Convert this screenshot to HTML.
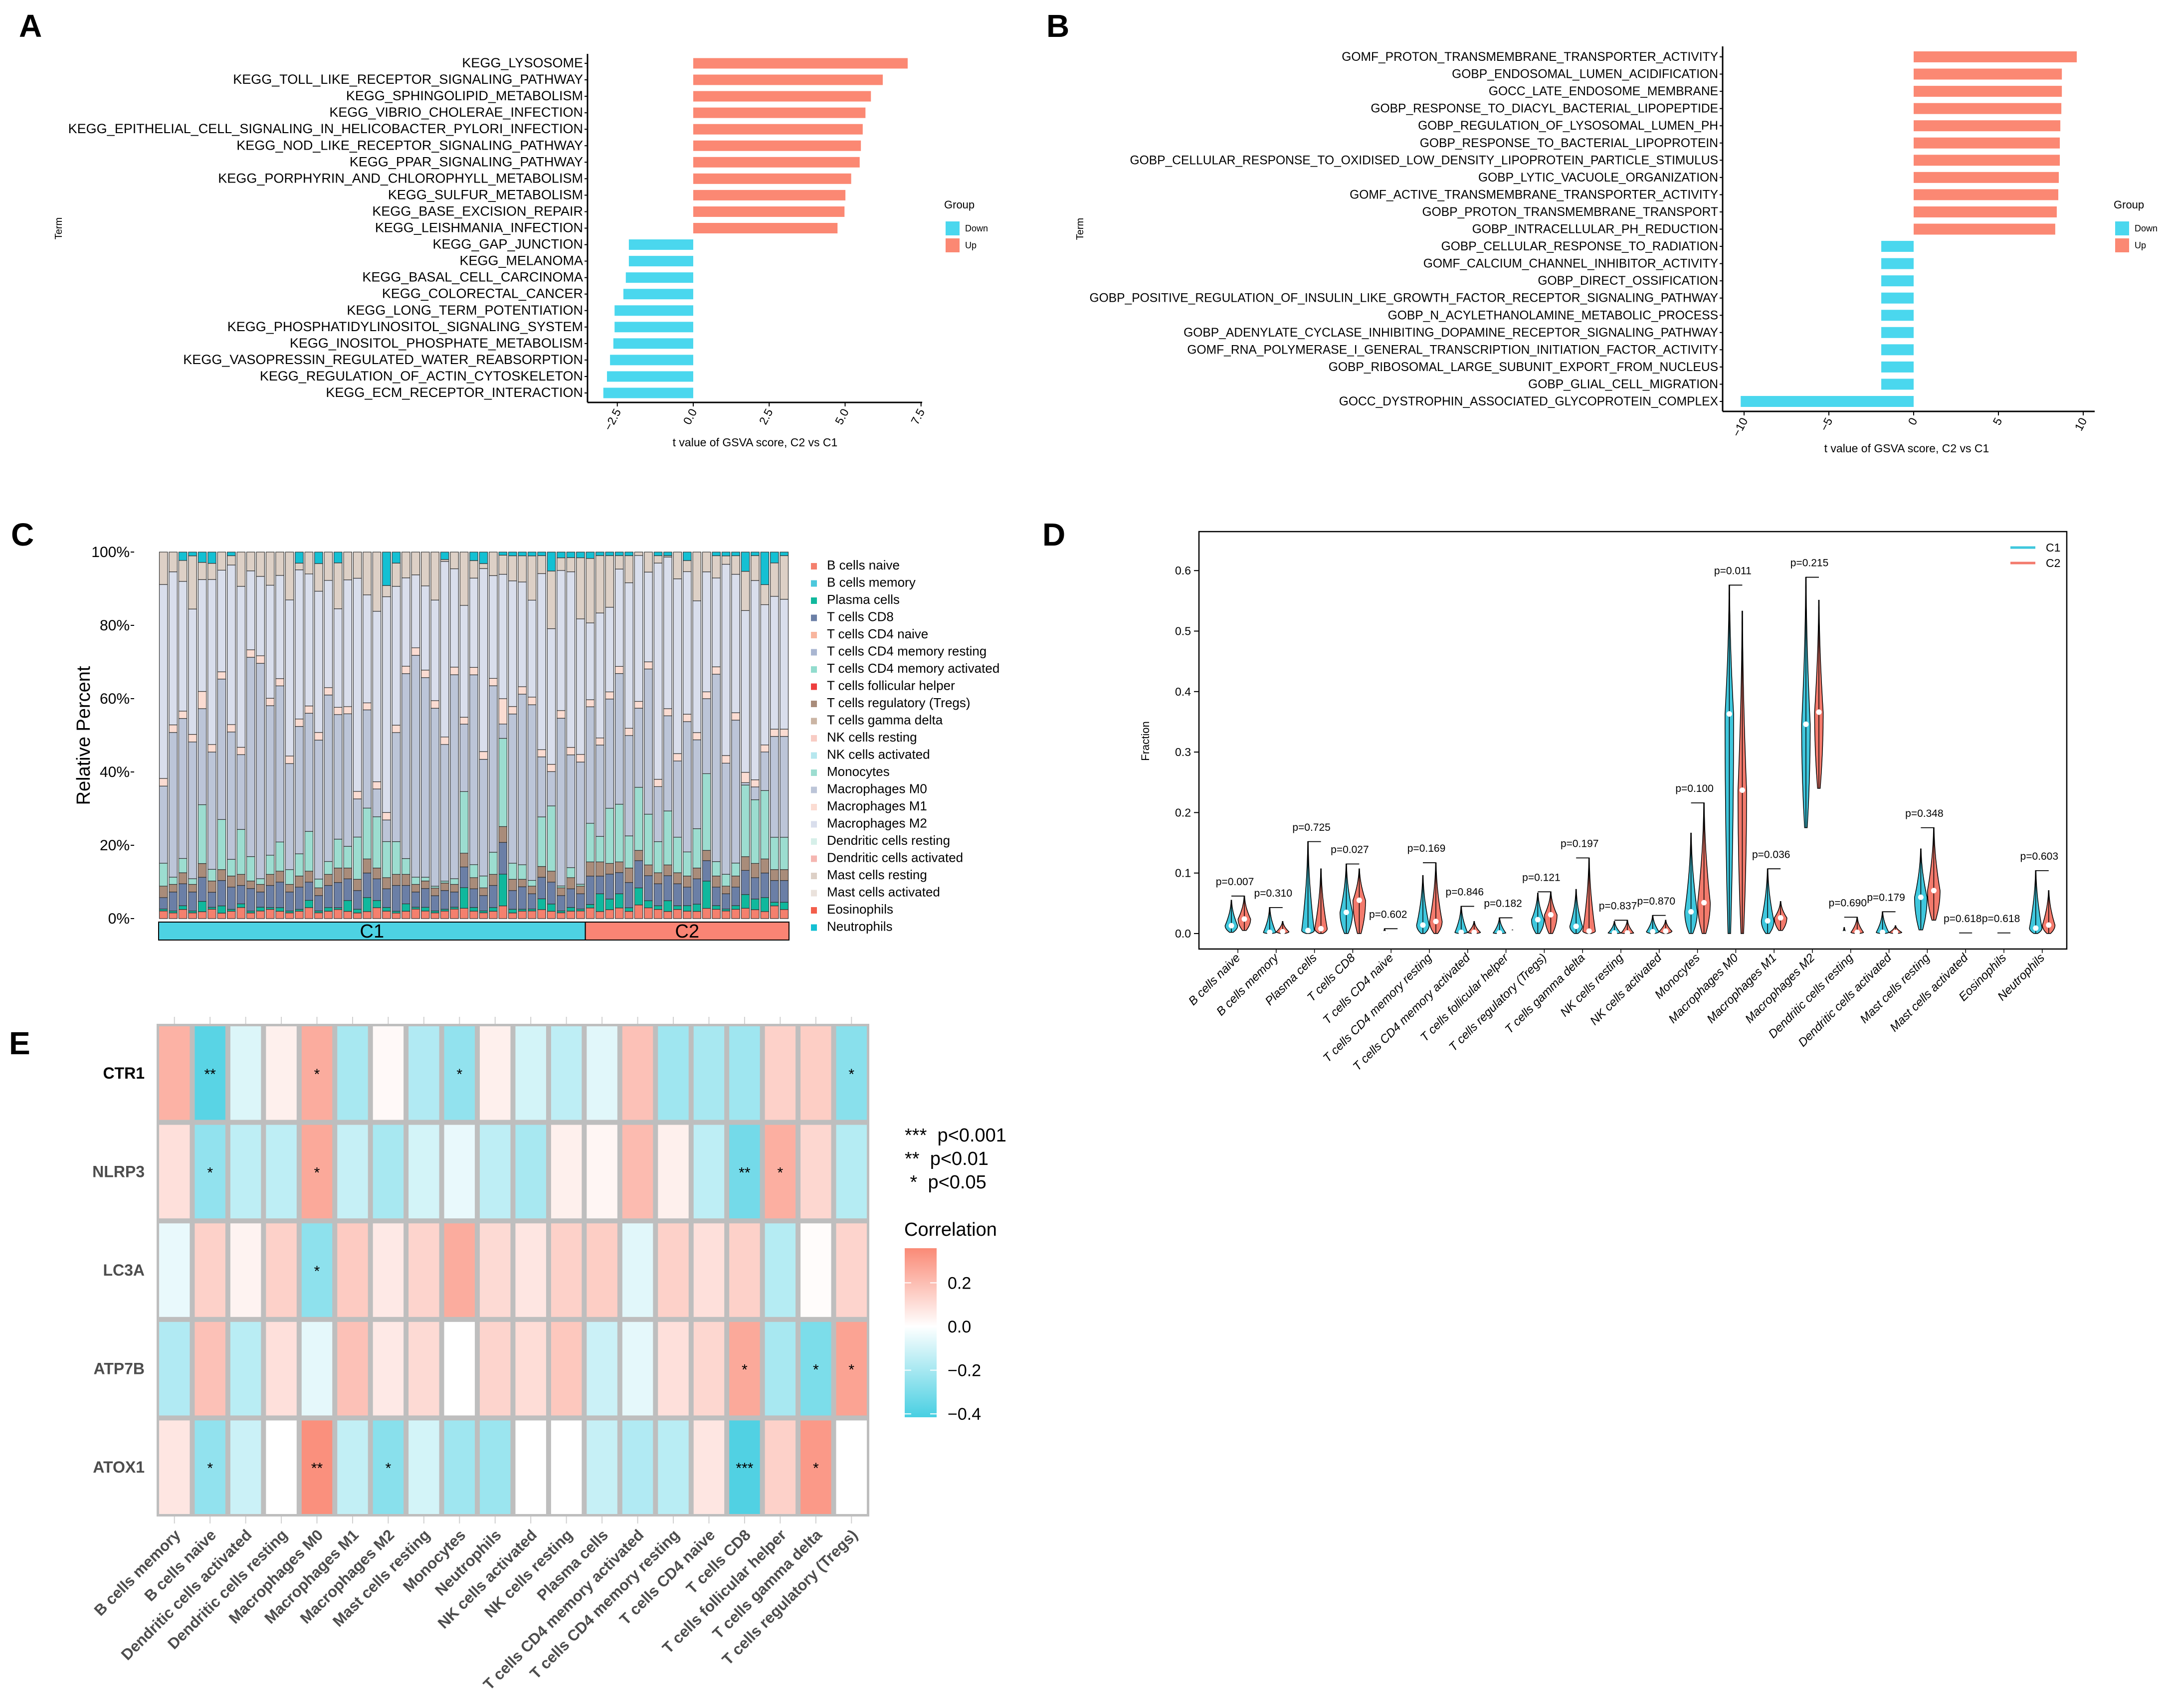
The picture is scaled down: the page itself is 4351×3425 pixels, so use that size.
<!DOCTYPE html>
<html><head><meta charset="utf-8"><style>
html,body{margin:0;padding:0;background:#fff;}
svg{display:block;font-family:"Liberation Sans",sans-serif;}
</style></head><body>
<svg id="fig" xmlns="http://www.w3.org/2000/svg" width="4351" height="3425" viewBox="0 0 4351 3425">
<rect x="0" y="0" width="4351" height="3425" fill="#fff"/>
<text x="38" y="74" font-size="64" font-weight="bold">A</text>
<text x="2098" y="74" font-size="64" font-weight="bold">B</text>
<text x="22" y="1094" font-size="64" font-weight="bold">C</text>
<text x="2090" y="1094" font-size="64" font-weight="bold">D</text>
<text x="18" y="2114" font-size="64" font-weight="bold">E</text>
</svg>
<script>
const NS='http://www.w3.org/2000/svg';
const svg=document.getElementById('fig');
function mk(tag,attrs,parent,text){const e=document.createElementNS(NS,tag);for(const k in attrs)e.setAttribute(k,attrs[k]);if(text!==undefined)e.textContent=text;(parent||svg).appendChild(e);return e;}

/* ---------- Panel A data ---------- */
const keggTerms=["KEGG_LYSOSOME","KEGG_TOLL_LIKE_RECEPTOR_SIGNALING_PATHWAY","KEGG_SPHINGOLIPID_METABOLISM","KEGG_VIBRIO_CHOLERAE_INFECTION","KEGG_EPITHELIAL_CELL_SIGNALING_IN_HELICOBACTER_PYLORI_INFECTION","KEGG_NOD_LIKE_RECEPTOR_SIGNALING_PATHWAY","KEGG_PPAR_SIGNALING_PATHWAY","KEGG_PORPHYRIN_AND_CHLOROPHYLL_METABOLISM","KEGG_SULFUR_METABOLISM","KEGG_BASE_EXCISION_REPAIR","KEGG_LEISHMANIA_INFECTION","KEGG_GAP_JUNCTION","KEGG_MELANOMA","KEGG_BASAL_CELL_CARCINOMA","KEGG_COLORECTAL_CANCER","KEGG_LONG_TERM_POTENTIATION","KEGG_PHOSPHATIDYLINOSITOL_SIGNALING_SYSTEM","KEGG_INOSITOL_PHOSPHATE_METABOLISM","KEGG_VASOPRESSIN_REGULATED_WATER_REABSORPTION","KEGG_REGULATION_OF_ACTIN_CYTOSKELETON","KEGG_ECM_RECEPTOR_INTERACTION"];
const keggT=[7.06,6.24,5.85,5.67,5.58,5.52,5.48,5.20,5.01,4.98,4.75,-2.12,-2.12,-2.22,-2.30,-2.59,-2.59,-2.63,-2.74,-2.84,-2.96];
const keggTicks=[-2.5,0,2.5,5,7.5];
const keggTickLabels=["\u22122.5","0.0","2.5","5.0","7.5"];

/* ---------- Panel B data ---------- */
const goTerms=["GOMF_PROTON_TRANSMEMBRANE_TRANSPORTER_ACTIVITY","GOBP_ENDOSOMAL_LUMEN_ACIDIFICATION","GOCC_LATE_ENDOSOME_MEMBRANE","GOBP_RESPONSE_TO_DIACYL_BACTERIAL_LIPOPEPTIDE","GOBP_REGULATION_OF_LYSOSOMAL_LUMEN_PH","GOBP_RESPONSE_TO_BACTERIAL_LIPOPROTEIN","GOBP_CELLULAR_RESPONSE_TO_OXIDISED_LOW_DENSITY_LIPOPROTEIN_PARTICLE_STIMULUS","GOBP_LYTIC_VACUOLE_ORGANIZATION","GOMF_ACTIVE_TRANSMEMBRANE_TRANSPORTER_ACTIVITY","GOBP_PROTON_TRANSMEMBRANE_TRANSPORT","GOBP_INTRACELLULAR_PH_REDUCTION","GOBP_CELLULAR_RESPONSE_TO_RADIATION","GOMF_CALCIUM_CHANNEL_INHIBITOR_ACTIVITY","GOBP_DIRECT_OSSIFICATION","GOBP_POSITIVE_REGULATION_OF_INSULIN_LIKE_GROWTH_FACTOR_RECEPTOR_SIGNALING_PATHWAY","GOBP_N_ACYLETHANOLAMINE_METABOLIC_PROCESS","GOBP_ADENYLATE_CYCLASE_INHIBITING_DOPAMINE_RECEPTOR_SIGNALING_PATHWAY","GOMF_RNA_POLYMERASE_I_GENERAL_TRANSCRIPTION_INITIATION_FACTOR_ACTIVITY","GOBP_RIBOSOMAL_LARGE_SUBUNIT_EXPORT_FROM_NUCLEUS","GOBP_GLIAL_CELL_MIGRATION","GOCC_DYSTROPHIN_ASSOCIATED_GLYCOPROTEIN_COMPLEX"];
const goT=[9.62,8.74,8.74,8.71,8.65,8.62,8.62,8.56,8.53,8.44,8.35,-1.91,-1.91,-1.91,-1.91,-1.91,-1.91,-1.91,-1.91,-1.91,-10.2];
const goTicks=[-10,-5,0,5,10];
const goTickLabels=["\u221210","\u22125","0","5","10"];

const UP='#FB8873', DOWN='#4AD7EE';

function gsvaPanel(cfg){
  const g=mk('g',{});
  
  
  const xs=v=>cfg.zero+v*cfg.perUnit;
  const ys=i=>cfg.rowTop+i*cfg.rowStep;
  cfg.terms.forEach((t,i)=>{
    const v=cfg.vals[i];
    const r=mk('rect',{x:Math.min(xs(0),xs(v)),y:ys(i)-cfg.barH/2,width:Math.abs(xs(v)-xs(0)),height:cfg.barH,fill:v>=0?UP:DOWN},g);
    
    
    const tk=mk('line',{x1:cfg.axisX-6,x2:cfg.axisX,y1:ys(i),y2:ys(i),stroke:'#000','stroke-width':2},g);
    
    
    const lb=mk('text',{x:cfg.axisX-9,y:ys(i)+8,'font-size':cfg.fs,'text-anchor':'end',fill:'#000'},g,t);
    
    
  });
  const ya=mk('line',{x1:cfg.axisX,x2:cfg.axisX,y1:cfg.axisTop,y2:cfg.axisY,stroke:'#000','stroke-width':3},g);
  
  
  const xa=mk('line',{x1:cfg.axisX,x2:cfg.axisRight,y1:cfg.axisY,y2:cfg.axisY,stroke:'#000','stroke-width':3},g);
  
  
  cfg.ticks.forEach((v,i)=>{
    const t=mk('line',{x1:xs(v),x2:xs(v),y1:cfg.axisY,y2:cfg.axisY+8,stroke:'#000','stroke-width':2},g);
    
    
    const l=mk('text',{x:xs(v)+8,y:cfg.axisY+18,'font-size':23,'text-anchor':'end',transform:`rotate(-62 ${xs(v)+8} ${cfg.axisY+18})`},g,cfg.tickLabels[i]);
    
    
  });
  const xt=mk('text',{x:cfg.xlabX,y:cfg.xlabY,'font-size':23,'text-anchor':'middle'},g,'t value of GSVA score, C2 vs C1');
  
  
  const yt=mk('text',{x:cfg.termX,y:cfg.termY,'font-size':20,'text-anchor':'middle',transform:`rotate(-90 ${cfg.termX} ${cfg.termY})`},g,'Term');
  
  
  const lt=mk('text',{x:cfg.legX,y:418,'font-size':22},g,'Group');
  
  
  [['Down',DOWN,444],['Up',UP,478]].forEach(([n,c,y])=>{
    const s=mk('rect',{x:cfg.legX+3,y:y,width:28,height:28,fill:c},g);
    
    
    const tx=mk('text',{x:cfg.legX+42,y:y+20,'font-size':18},g,n);
    
    
  });
}
gsvaPanel({name:'panel-a-kegg-chart',terms:keggTerms,vals:keggT,ticks:keggTicks,tickLabels:keggTickLabels,zero:1390,perUnit:60.9,rowTop:127,rowStep:33.05,barH:21,axisX:1178,axisTop:108,axisY:807,axisRight:1849,fs:27,xlabX:1514,xlabY:895,termX:124,termY:458,legX:1893});
gsvaPanel({name:'panel-b-go-chart',terms:goTerms,vals:goT,ticks:goTicks,tickLabels:goTickLabels,zero:3837,perUnit:34,rowTop:114,rowStep:34.55,barH:22,axisX:3454,axisTop:93,axisY:825,axisRight:4200,fs:24.6,xlabX:3823,xlabY:907,termX:2172,termY:459,legX:4238});

/* ---------- Panel C data ---------- */
const cellTypes=["B cells naive","B cells memory","Plasma cells","T cells CD8","T cells CD4 naive","T cells CD4 memory resting","T cells CD4 memory activated","T cells follicular helper","T cells regulatory (Tregs)","T cells gamma delta","NK cells resting","NK cells activated","Monocytes","Macrophages M0","Macrophages M1","Macrophages M2","Dendritic cells resting","Dendritic cells activated","Mast cells resting","Mast cells activated","Eosinophils","Neutrophils"];
const cellColors=["#F4806E","#4CC8DC","#10B89D","#6B7FA6","#F8B59E","#A9B6D1","#92DCCE","#EE3E3E","#A98C7A","#CBB5A4","#F8CCC4","#B6E7EE","#9CDDD0","#BCC5D8","#FBDCD2","#D9DEEC","#D6EFE9","#F5B6B1","#DDD0C6","#EAE2DC","#F35E4B","#14C0D3"];
const groups=["C1","C1","C1","C1","C1","C1","C1","C1","C1","C1","C1","C1","C1","C1","C1","C1","C1","C1","C1","C1","C1","C1","C1","C1","C1","C1","C1","C1","C1","C1","C1","C1","C1","C1","C1","C1","C1","C1","C1","C1","C1","C1","C1","C1","C2","C2","C2","C2","C2","C2","C2","C2","C2","C2","C2","C2","C2","C2","C2","C2","C2","C2","C2","C2","C2"];
const fracBNaive=[2,1.5,2.5,1.5,2,2.5,1.5,2,3,1.5,2,2.5,2,1.5,2,3,1.5,2,2.5,2,1.5,2,3,2,1.5,2,2.5,2,1.5,2,2.5,3,2,1.5,2,4,1.5,2,2,2.5,2,1.5,2,2,3,2,2.5,3,2,4,3,2.5,2,2.5,2,2,3,2.5,2,2.5,3,2.5,2,3.5,2.5];
const fracPlasma=[0.5,0.5,1,0.5,3,0.5,2,0.5,1,0.5,1,0.5,1,0.5,0.5,2,0.5,1,0.5,3,1,4,2,1,0.5,2,0.5,1,0.5,0.5,0.5,6,1,0.5,1,10,1,0.5,0.5,3,2,0.5,1,0.5,1,5,3,4,1,5,2,1,3,1,1.5,2,8,1,0.5,1,4,3,4,1,2];
const fracCD8=[3,5,6,5,7,4,7,6,5,6,4,6,7,5,6,5,4,6,7,6,5,7,6,5,7,5,4,5,4,5,4,6,5,4,6,10,5,6,4,6,6,4,5,4,8,5,7,6,7,8,7,6,7,6,5,7,6,5,4,5,7,6,7,6,6];
const fracTregs=[3,2,3,2,4,3,3,3,3,2,2,3,3,2,3,3,2,3,4,3,3,4,3,3,3,3,2,2,2,2,2,4,3,2,3,5,3,2,2,3,3,2,3,2,4,4,3,3,4,3,3,3,3,3,3,3,3,3,2,3,4,4,4,3,3];
const fracMono=[6,1.9,3.9,1.5,17.1,3.1,13.8,4.5,12.2,6.5,1.5,5.2,8,3.9,6,10.9,2.3,3.5,8,6,11.3,14.5,14.2,9.7,8.9,4.3,1.9,1,0.5,0.5,1.5,17.9,3.5,3.1,6,27.8,4.3,3.9,1.5,13.8,17.9,0.5,2.7,0.5,10.9,7.2,15.5,16.3,8.9,18.5,14.2,8.5,15.1,9.7,6.5,10.9,22.5,3.9,3.1,3.5,20.8,17.9,19.5,8.9,8.9];
const fracM0=[20.2,38.1,38.2,36,27.9,31.2,38.7,34.4,20.3,53,56.7,40.6,42.8,27.9,34.4,32.4,36.2,45.2,34.5,36.7,10.2,28,7.7,5.8,29.6,50.2,58.4,53.1,46.7,36.5,53.7,19.6,51,30.4,45.2,4.5,39.9,45.6,46,16.7,9.4,43.7,30.3,32,32.9,25.8,30.7,36.9,27.8,23.2,40.6,15,26.6,20.8,35.2,24.6,22,50.6,29.1,38.6,0.7,3.6,11,27.8,27.8];
const fracM1=[2,2,2,2,5,2,2,2,2,2,2,2,2,2,2,2,2,2,2,2,2,2,2,2,2,2,2,2,2,2,2,2,2,2,2,8,2,2,2,2,2,2,2,2,2,2,2,2,2,2,2,2,2,2,2,2,2,2,2,2,3,2,2,2,2];
const fracM2=[50.8,40.3,35.4,33,32.5,43.9,28,43.1,43.7,21,20.9,30.7,28.3,41.1,40.3,36.2,36.8,29.1,27.3,35.1,57,30.8,47.2,58,37.7,24,19.2,22.4,26.4,46.9,25.9,32.5,24,47.7,27.9,39.2,33.6,28,25.4,49,37.2,36.5,47.2,35.5,21.7,35.3,23.8,27.5,40.3,42.8,25.1,59,42.4,47.7,38.5,36.5,35.2,24,50.1,37.4,47,56,40,36.6,35.8];
const fracMast=[8.5,5.2,5.7,14,5,4.3,5,2.5,9.3,5,6.4,9,6.4,12.6,1.8,6,7.2,7.7,12.7,7.7,7,12.2,16.4,3,6.3,7,6,9,12.6,0.5,4.4,15.5,4.7,1.3,6.4,6,6.7,7,11.6,5,15.8,3.3,3.8,16,18.2,16.2,14.5,3.8,7.5,1,5.6,2,0.4,7.3,3,13.5,5.8,6,2.2,5,11.4,7,5.7,9.2,12];
const fracNeut=[0,0,2.3,1,3,3,0,1,0,0,0,0,0,0,3,0,3,0,3,0,0,0,0,9,3,0,0,0,0,2,0,0,2.3,3,0,1,1,1,1,1,5.2,1.5,1.5,1.5,1.8,1,1,1,1,0,0,1,1,0,2.3,0,0,1,1,1,5.6,1,9.3,3,1];
const pctTicks=[0,20,40,60,80,100];

(function(){
  const g=mk('g',{});
  
  
  const x0=318,x1=1582,yBot=1842,yTop=1107;
  const n=groups.length, pitch=(x1-x0)/n;
  const ys=p=>yBot-p/100*(yBot-yTop);
  const seriesByType={0:fracBNaive,2:fracPlasma,3:fracCD8,8:fracTregs,12:fracMono,13:fracM0,14:fracM1,15:fracM2,18:fracMast,21:fracNeut};
  for(let i=0;i<n;i++){
    const vals=cellTypes.map((_,k)=>seriesByType[k]?seriesByType[k][i]:0);
    const tot=vals.reduce((a,b)=>a+b,0);
    let cum=0;
    vals.forEach((v,k)=>{
      if(v<=0)return;
      const p0=cum/tot*100, p1=(cum+v)/tot*100; cum+=v;
      const r=mk('rect',{x:x0+i*pitch+1.5,y:ys(p1),width:pitch-3,height:ys(p0)-ys(p1),fill:cellColors[k],stroke:'#333','stroke-width':1.2},g);
      
      
    });
  }
  pctTicks.forEach(p=>{
    const t=mk('line',{x1:262,x2:269,y1:ys(p),y2:ys(p),stroke:'#000','stroke-width':2},g);
    
    
    const l=mk('text',{x:260,y:ys(p)+10,'font-size':30,'text-anchor':'end'},g,p+'%');
    
    
  });
  const yt=mk('text',{x:180,y:1475,'font-size':38,'text-anchor':'middle',transform:'rotate(-90 180 1475)'},g,'Relative Percent');
  
  
  const nC1=groups.filter(s=>s==='C1').length;
  const xb=x0+nC1*pitch;
  const c1=mk('rect',{x:x0,y:1849,width:xb-x0,height:36,fill:'#4DD2E3',stroke:'#000','stroke-width':2},g);
  
  
  const c2=mk('rect',{x:xb,y:1849,width:x1-xb,height:36,fill:'#FA8474',stroke:'#000','stroke-width':2},g);
  
  
  const t1=mk('text',{x:(x0+xb)/2,y:1880,'font-size':38,'text-anchor':'middle'},g,'C1');
  
  
  const t2=mk('text',{x:(xb+x1)/2,y:1880,'font-size':38,'text-anchor':'middle'},g,'C2');
  
  
  cellTypes.forEach((c,k)=>{
    const y=1142+k*34.5;
    const s=mk('rect',{x:1626,y:y-13,width:12,height:13,fill:cellColors[k]},g);
    
    
    const l=mk('text',{x:1658,y:y,'font-size':26},g,c);
    
    
  });
})();

/* ---------- Panel D data ---------- */
const violinCats=["B cells naive","B cells memory","Plasma cells","T cells CD8","T cells CD4 naive","T cells CD4 memory resting","T cells CD4 memory activated","T cells follicular helper","T cells regulatory (Tregs)","T cells gamma delta","NK cells resting","NK cells activated","Monocytes","Macrophages M0","Macrophages M1","Macrophages M2","Dendritic cells resting","Dendritic cells activated","Mast cells resting","Mast cells activated","Eosinophils","Neutrophils"];
const c1Median=[0.013,0.002,0.005,0.035,0,0.014,0.002,0.001,0.023,0.012,0.001,0.003,0.036,0.363,0.021,0.346,0,0.002,0.060,0,0,0.009];
const c1Max=[0.055,0.043,0.152,0.115,0.008,0.096,0.045,0.026,0.067,0.073,0.020,0.030,0.166,0.576,0.107,0.589,0.010,0.036,0.140,0.001,0.001,0.104];
const c1Min=[0.002,0,0,0,0,0,0,0,0,0,0,0,0,0,0,0.175,0,0,0.006,0,0,0];
const c2Median=[0.024,0.003,0.008,0.055,0,0.020,0.002,0.001,0.031,0.004,0.001,0.004,0.051,0.237,0.026,0.366,0.002,0.002,0.071,0,0,0.014];
const c2Max=[0.062,0.020,0.107,0.107,0.003,0.117,0.020,0.006,0.069,0.125,0.022,0.022,0.216,0.533,0.053,0.551,0.027,0.013,0.175,0.001,0.001,0.071];
const c2Min=[0.005,0,0,0,0,0,0,0,0,0,0,0,0,0,0.005,0.240,0,0,0.022,0,0,0];
const pValues=["p=0.007","p=0.310","p=0.725","p=0.027","p=0.602","p=0.169","p=0.846","p=0.182","p=0.121","p=0.197","p=0.837","p=0.870","p=0.100","p=0.011","p=0.036","p=0.215","p=0.690","p=0.179","p=0.348","p=0.618","p=0.618","p=0.603"];
const fracTicks=[0,0.1,0.2,0.3,0.4,0.5,0.6];

(function(){
  const g=mk('g',{});
  
  
  const xc=i=>2482+i*76.8;
  const yv=v=>1872-v*1213;
  const box=mk('rect',{x:2404,y:1066,width:1740,height:837,fill:'none',stroke:'#000','stroke-width':2.5},g);
  
  
  fracTicks.forEach(v=>{
    const t=mk('line',{x1:2394,x2:2404,y1:yv(v),y2:yv(v),stroke:'#000','stroke-width':2},g);
    
    
    const l=mk('text',{x:2388,y:yv(v)+8,'font-size':23,'text-anchor':'end'},g,v.toFixed(1));
    
    
  });
  const yt=mk('text',{x:2304,y:1486,'font-size':22,'text-anchor':'middle',transform:'rotate(-90 2304 1486)'},g,'Fraction');
  
  
  function violin(cx,med,mx,mn,col,name){
    const range=mx-mn;
    const w=range>0.3?8:(range<0.012?4:12);
    const pts=[];const N=30;
    const up=[],lo=[];
    for(let k=0;k<=N;k++){const y=mn+(med-mn)*k/N;const t=med>mn?(med-y)/(med-mn):0;lo.push([y,w*(1-0.75*t*t)+0.6]);}
    for(let k=1;k<=N;k++){const y=med+(mx-med)*k/N;const t=k/N;up.push([y,w*Math.pow(1-t,1.8)+0.6]);}
    const prof=lo.concat(up);
    prof.forEach(([y,hw])=>pts.push((cx+hw).toFixed(1)+','+yv(y).toFixed(1)));
    for(let k=prof.length-1;k>=0;k--){const [y,hw]=prof[k];pts.push((cx-hw).toFixed(1)+','+yv(y).toFixed(1));}
    const p=mk('polygon',{points:pts.join(' '),fill:col,stroke:'#000','stroke-width':1.5},g);
    
    
    const wl=mk('line',{x1:cx,x2:cx,y1:yv(mn),y2:yv(mx),stroke:'#000','stroke-width':1.5},g);
    
    
    const d=mk('circle',{cx:cx,cy:yv(med),r:5.5,fill:'#fff'},g);
    
    
  }
  violinCats.forEach((c,i)=>{
    const a=xc(i)-13,b=xc(i)+13;
    violin(a,c1Median[i],c1Max[i],c1Min[i],'#3FC7DD','violin-c1');
    violin(b,c2Median[i],c2Max[i],c2Min[i],'#F37A6C','violin-c2');
    const top=Math.max(c1Max[i],c2Max[i]);
    const br=mk('line',{x1:a,x2:b,y1:yv(top),y2:yv(top),stroke:'#000','stroke-width':1.8},g);
    
    
    const pt=mk('text',{x:xc(i)-6,y:yv(top+0.018),'font-size':21,'text-anchor':'middle'},g,pValues[i]);
    
    
    const xt=mk('line',{x1:xc(i),x2:xc(i),y1:1903,y2:1911,stroke:'#000','stroke-width':1.5},g);
    
    
    const lx=xc(i)+6,ly=1922;
    const l=mk('text',{x:lx,y:ly,'font-size':24,'font-style':'italic','text-anchor':'end',transform:`rotate(-45 ${lx} ${ly})`},g,c);
    
    
  });
  [['C1','#3FC7DD',1098],['C2','#F37A6C',1129]].forEach(([n,c,y])=>{
    const ln=mk('line',{x1:4031,x2:4081,y1:y,y2:y,stroke:c,'stroke-width':5},g);
    
    
    const t=mk('text',{x:4102,y:y+8,'font-size':23},g,n);
    
    
  });
})();

/* ---------- Panel E data ---------- */
const genes=["CTR1","NLRP3","LC3A","ATP7B","ATOX1"];
const immuneCols=["B cells memory","B cells naive","Dendritic cells activated","Dendritic cells resting","Macrophages M0","Macrophages M1","Macrophages M2","Mast cells resting","Monocytes","Neutrophils","NK cells activated","NK cells resting","Plasma cells","T cells CD4 memory activated","T cells CD4 memory resting","T cells CD4 naive","T cells CD8","T cells follicular helper","T cells gamma delta","T cells regulatory (Tregs)"];
const corCTR1=[0.25,-0.38,-0.08,0.05,0.27,-0.2,0.02,-0.18,-0.25,0.05,-0.1,-0.15,-0.07,0.2,-0.22,-0.2,-0.22,0.15,0.16,-0.27];
const corNLRP3=[0.1,-0.25,-0.15,-0.15,0.28,-0.13,-0.2,-0.1,-0.05,-0.15,-0.2,0.05,0.03,0.22,0.05,-0.15,-0.32,0.26,0.13,-0.17];
const corLC3A=[-0.05,0.15,0.04,0.15,-0.26,0.17,0.07,0.14,0.27,0.12,0.08,0.15,0.16,-0.07,0.15,0.1,0.15,-0.17,0.01,0.14];
const corATP7B=[-0.18,0.2,-0.16,0.1,-0.06,0.2,0.07,0.12,0.0,0.14,0.11,0.18,-0.12,-0.06,0.1,0.13,0.28,-0.2,-0.3,0.3];
const corATOX1=[0.08,-0.25,-0.12,0.0,0.36,-0.14,-0.27,-0.1,-0.22,-0.23,0.0,0.0,-0.13,-0.18,-0.16,0.08,-0.4,0.15,0.33,0.0];
const sigCTR1=["","**","","","*","","","","*","","","","","","","","","","","*"];
const sigNLRP3=["","*","","","*","","","","","","","","","","","","**","*","",""];
const sigLC3A=["","","","","*","","","","","","","","","","","","","","",""];
const sigATP7B=["","","","","","","","","","","","","","","","","*","","*","*"];
const sigATOX1=["","*","","","**","","*","","","","","","","","","","***","","*",""];
const corTicks=[0.2,0,-0.2,-0.4];
const corTickLabels=["0.2","0.0","\u22120.2","\u22120.4"];

(function(){
  const g=mk('g',{});
  
  
  const mats=[corCTR1,corNLRP3,corLC3A,corATP7B,corATOX1];
  const sigs=[sigCTR1,sigNLRP3,sigLC3A,sigATP7B,sigATOX1];
  const X0=314,X1=1743,Y0=2053,Y1=3041;
  const cw=(X1-X0)/immuneCols.length, ch=(Y1-Y0)/genes.length;
  const lo=[72,207,226],hi=[250,138,118];
  function col(v){let c,t;if(v<0){c=lo;t=Math.min(1,-v/0.42);}else{c=hi;t=Math.min(1,v/0.38);}
    const m=k=>Math.round(255+(c[k]-255)*t);return `rgb(${m(0)},${m(1)},${m(2)})`;}
  immuneCols.forEach((c,j)=>{
    const cx=X0+(j+0.5)*cw;
    [[Y0-14,Y0],[Y1,Y1+14]].forEach(([a,b])=>{
      const t=mk('line',{x1:cx,x2:cx,y1:a,y2:b,stroke:'#d0d0d0','stroke-width':2},g);
      
      
    });
  });
  const bg=mk('rect',{x:X0,y:Y0,width:X1-X0,height:Y1-Y0,fill:'#BEBEBE'},g);
  
  
  genes.forEach((gn,r)=>{
    const cy=Y0+(r+0.5)*ch;
    mats[r].forEach((v,j)=>{
      const cell=mk('rect',{x:X0+j*cw+5,y:Y0+r*ch+5,width:cw-10,height:ch-10,fill:col(v)},g);
      
      
      if(sigs[r][j]){
        const s=mk('text',{x:X0+(j+0.5)*cw,y:cy+12,'font-size':30,'text-anchor':'middle'},g,sigs[r][j]);
        
        
      }
    });
    const l=mk('text',{x:290,y:cy+11,'font-size':32,'font-weight':'bold','text-anchor':'end',fill:r===0?'#000':'#4D4D4D'},g,gn);
    
    
  });
  immuneCols.forEach((c,j)=>{
    const lx=X0+(j+0.5)*cw+14, ly=3080;
    const l=mk('text',{x:lx,y:ly,'font-size':31,'font-weight':'bold','text-anchor':'end',fill:'#4D4D4D',transform:`rotate(-45 ${lx} ${ly})`},g,c);
    
    
  });
  [['***  p<0.001',1814,2289],['**  p<0.01',1814,2336],[' *  p<0.05',1814,2383]].forEach(([t,x,y])=>{
    const e=mk('text',{x:x,y:y,'font-size':38},g,t);
    e.style.whiteSpace='pre';
    
    
  });
  const ct=mk('text',{x:1813,y:2478,'font-size':38},g,'Correlation');
  
  
  const defs=mk('defs',{},g);
  const lg=mk('linearGradient',{id:'corGrad',x1:0,y1:0,x2:0,y2:1},defs);
  mk('stop',{offset:'0','stop-color':'#FA8A76'},lg);
  mk('stop',{offset:'0.463','stop-color':'#FFFFFF'},lg);
  mk('stop',{offset:'1','stop-color':'#48CFE2'},lg);
  const cb=mk('rect',{x:1814,y:2503,width:64,height:339,fill:'url(#corGrad)'},g);
  
  
  const cy=v=>2660-v/0.2*87.6;
  corTicks.forEach((v,i)=>{
    [[1814,1827],[1865,1878]].forEach(([a,b])=>{
      const t=mk('line',{x1:a,x2:b,y1:cy(v),y2:cy(v),stroke:'#fff','stroke-width':2},g);
      
      
    });
    const l=mk('text',{x:1900,y:cy(v)+12,'font-size':34},g,corTickLabels[i]);
    
    
  });
})();
</script>
</body></html>
